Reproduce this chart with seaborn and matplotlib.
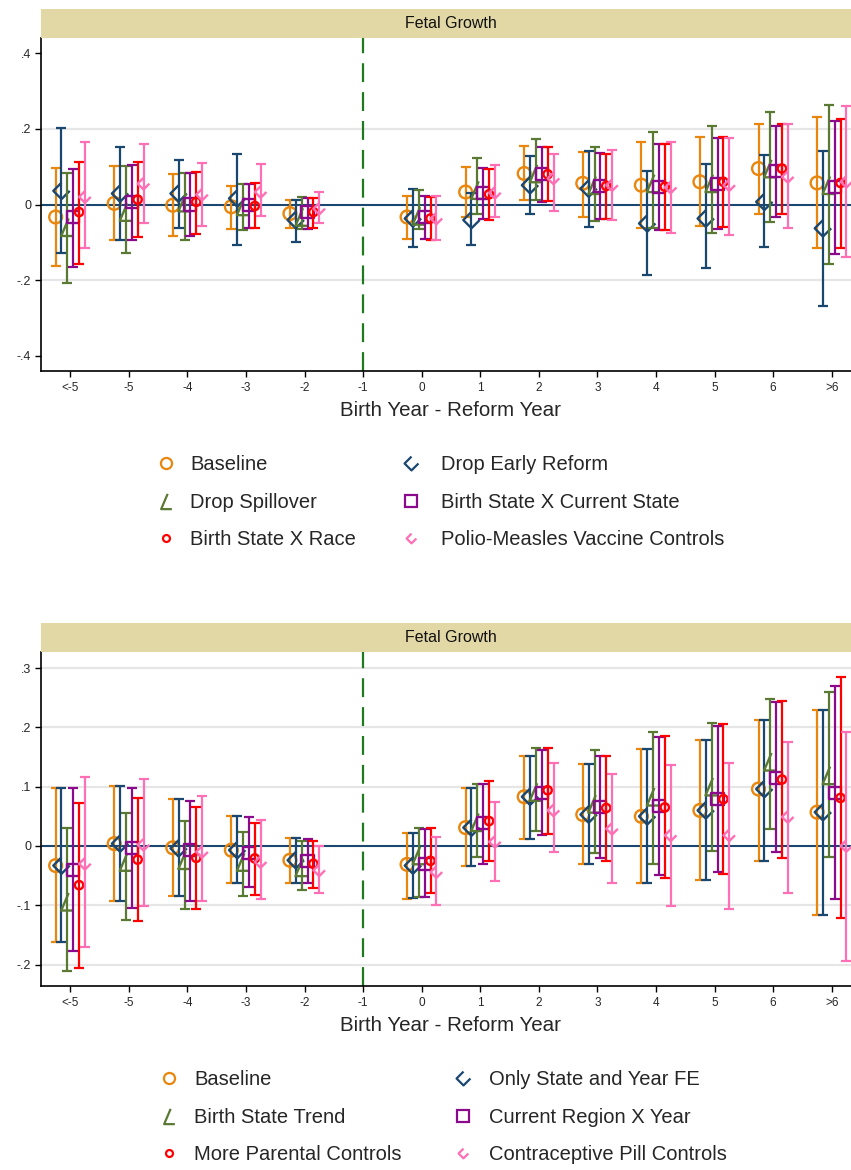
import numpy as np
import matplotlib
matplotlib.use("Agg")
import matplotlib.pyplot as plt
from matplotlib.path import Path
from matplotlib.lines import Line2D
from matplotlib.ticker import FuncFormatter
import seaborn as sns

# ---------------- data ----------------
categories = ["<-5", "-5", "-4", "-3", "-2", "-1", "0", "1", "2", "3", "4", "5", "6", ">6"]
# categories with estimates (index -1 is the omitted reference year)
est_cats = ["<-5", "-5", "-4", "-3", "-2", "0", "1", "2", "3", "4", "5", "6", ">6"]

# ---- top panel ----
top_labels = ["Baseline", "Drop Early Reform", "Drop Spillover",
              "Birth State X Current State", "Birth State X Race",
              "Polio-Measles Vaccine Controls"]
top_baseline_est = [-0.033, 0.003, -0.002, -0.006, -0.024, -0.033, 0.033, 0.082, 0.056, 0.051, 0.060, 0.095, 0.057]
top_baseline_lo = [-0.162, -0.094, -0.084, -0.066, -0.063, -0.090, -0.034, 0.011, -0.033, -0.063, -0.057, -0.026, -0.116]
top_baseline_hi = [0.097, 0.101, 0.080, 0.050, 0.013, 0.022, 0.098, 0.154, 0.139, 0.165, 0.179, 0.214, 0.230]

top_early_est = [0.036, 0.029, 0.029, 0.016, -0.041, -0.037, -0.041, 0.051, 0.042, -0.050, -0.037, 0.007, -0.063]
top_early_lo = [-0.127, -0.094, -0.062, -0.107, -0.100, -0.112, -0.107, -0.026, -0.059, -0.187, -0.169, -0.112, -0.269]
top_early_hi = [0.203, 0.152, 0.117, 0.133, 0.013, 0.042, 0.031, 0.128, 0.141, 0.089, 0.108, 0.130, 0.142]

top_spill_est = [-0.060, -0.020, 0.005, -0.005, -0.033, -0.030, 0.038, 0.082, 0.051, 0.056, 0.056, 0.095, 0.051]
top_spill_lo = [-0.207, -0.128, -0.094, -0.068, -0.066, -0.066, -0.024, 0.013, -0.043, -0.061, -0.074, -0.046, -0.156]
top_spill_hi = [0.084, 0.101, 0.084, 0.054, 0.019, 0.037, 0.124, 0.174, 0.151, 0.192, 0.207, 0.245, 0.262]

top_bscs_est = [-0.034, 0.007, 0.000, -0.002, -0.019, -0.033, 0.031, 0.080, 0.049, 0.047, 0.054, 0.088, 0.045]
top_bscs_lo = [-0.165, -0.094, -0.084, -0.063, -0.065, -0.091, -0.037, 0.007, -0.037, -0.068, -0.064, -0.034, -0.130]
top_bscs_hi = [0.095, 0.104, 0.082, 0.053, 0.018, 0.022, 0.097, 0.152, 0.137, 0.161, 0.176, 0.208, 0.220]

top_race_est = [-0.020, 0.013, 0.007, -0.004, -0.020, -0.037, 0.027, 0.080, 0.049, 0.047, 0.060, 0.095, 0.057]
top_race_lo = [-0.156, -0.087, -0.077, -0.062, -0.062, -0.093, -0.040, 0.008, -0.037, -0.068, -0.059, -0.026, -0.115]
top_race_hi = [0.112, 0.113, 0.086, 0.056, 0.017, 0.020, 0.095, 0.151, 0.133, 0.161, 0.179, 0.212, 0.225]

top_polio_est = [0.020, 0.055, 0.026, 0.033, -0.011, -0.037, 0.031, 0.069, 0.051, 0.045, 0.051, 0.073, 0.060]
top_polio_lo = [-0.116, -0.048, -0.056, -0.030, -0.050, -0.094, -0.034, -0.018, -0.041, -0.074, -0.081, -0.063, -0.140]
top_polio_hi = [0.166, 0.159, 0.110, 0.106, 0.032, 0.022, 0.105, 0.133, 0.145, 0.166, 0.177, 0.214, 0.260]

# ---- bottom panel ----
bot_labels = ["Baseline", "Only State and Year FE", "Birth State Trend",
              "Current Region X Year", "More Parental Controls",
              "Contraceptive Pill Controls"]
bot_baseline_est = [-0.033, 0.004, -0.003, -0.007, -0.024, -0.031, 0.031, 0.083, 0.053, 0.050, 0.060, 0.096, 0.057]
bot_baseline_lo = [-0.162, -0.093, -0.084, -0.063, -0.062, -0.089, -0.033, 0.011, -0.031, -0.063, -0.058, -0.026, -0.116]
bot_baseline_hi = [0.097, 0.101, 0.080, 0.051, 0.014, 0.022, 0.098, 0.152, 0.138, 0.164, 0.178, 0.213, 0.229]

bot_fe_est = [-0.033, 0.004, -0.004, -0.007, -0.024, -0.033, 0.031, 0.083, 0.053, 0.050, 0.060, 0.096, 0.057]
bot_fe_lo = [-0.162, -0.093, -0.084, -0.063, -0.062, -0.088, -0.034, 0.011, -0.031, -0.063, -0.058, -0.026, -0.116]
bot_fe_hi = [0.097, 0.101, 0.080, 0.051, 0.014, 0.022, 0.098, 0.152, 0.138, 0.164, 0.178, 0.213, 0.229]

bot_trend_est = [-0.094, -0.027, -0.024, -0.027, -0.036, -0.016, 0.040, 0.091, 0.071, 0.083, 0.100, 0.142, 0.119]
bot_trend_lo = [-0.211, -0.125, -0.107, -0.084, -0.074, -0.086, -0.019, 0.026, -0.012, -0.030, -0.008, 0.029, -0.019]
bot_trend_hi = [0.031, 0.056, 0.042, 0.024, 0.008, 0.031, 0.105, 0.165, 0.162, 0.192, 0.207, 0.248, 0.260]

bot_region_est = [-0.040, -0.003, -0.007, -0.011, -0.025, -0.030, 0.038, 0.089, 0.065, 0.067, 0.079, 0.115, 0.090]
bot_region_lo = [-0.177, -0.104, -0.092, -0.069, -0.063, -0.086, -0.030, 0.018, -0.021, -0.049, -0.044, -0.010, -0.090]
bot_region_hi = [0.098, 0.097, 0.076, 0.049, 0.011, 0.028, 0.105, 0.162, 0.151, 0.184, 0.203, 0.242, 0.270]

bot_parent_est = [-0.066, -0.023, -0.020, -0.021, -0.030, -0.025, 0.042, 0.094, 0.064, 0.065, 0.079, 0.112, 0.081]
bot_parent_lo = [-0.205, -0.126, -0.106, -0.083, -0.071, -0.079, -0.026, 0.021, -0.025, -0.054, -0.047, -0.021, -0.122]
bot_parent_hi = [0.072, 0.081, 0.066, 0.039, 0.008, 0.030, 0.110, 0.165, 0.152, 0.185, 0.205, 0.244, 0.285]

bot_pill_est = [-0.030, 0.002, -0.010, -0.027, -0.041, -0.044, 0.007, 0.060, 0.029, 0.018, 0.018, 0.049, 0.000]
bot_pill_lo = [-0.171, -0.101, -0.093, -0.090, -0.080, -0.099, -0.059, -0.010, -0.062, -0.101, -0.107, -0.080, -0.194]
bot_pill_hi = [0.116, 0.113, 0.084, 0.043, 0.000, 0.015, 0.074, 0.140, 0.122, 0.136, 0.140, 0.176, 0.192]

# ---------------- styling ----------------
colors = ["#e8860e", "#1a476f", "#5a7a34", "#8b0a8b", "#ff0000", "#ff6fb5"]
offsets = [-0.25, -0.15, -0.05, 0.05, 0.15, 0.25]

chevron = Path([(0, 1), (-1, 0), (0, -1), (1, 0)],
               [Path.MOVETO, Path.LINETO, Path.LINETO, Path.LINETO])
angle = Path([(0.15, 1), (-0.7, -1), (0.7, -1)],
             [Path.MOVETO, Path.LINETO, Path.LINETO])
markers = ["o", chevron, angle, "s", "o", chevron]
msizes = [85, 140, 160, 75, 36, 70]          # scatter sizes (pt^2)
leg_msizes = [8, 10, 11, 8, 5, 7]             # legend marker sizes (pt)

sns.set_theme(style="white")
plt.rcParams["font.family"] = ["Liberation Sans", "DejaVu Sans"]

fig = plt.figure(figsize=(8.51, 11.70), dpi=100)
W, H = 851.0, 1170.0


def fmt(v, pos):
    if abs(v) < 1e-9:
        return "0"
    s = f"{v:.1f}"
    return s.replace("0.", ".")


def make_panel(ax_top_px, ax_bot_px, strip_top_px, ylim, yticks, grid_vals, series, labels):
    left = 41 / W
    width = 820 / W
    ax = fig.add_axes([left, 1 - ax_bot_px / H, width, (ax_bot_px - ax_top_px) / H])
    sax = fig.add_axes([left, 1 - ax_top_px / H, width, (ax_top_px - strip_top_px) / H])
    sax.set_facecolor("#e2d8a6")
    for s in sax.spines.values():
        s.set_visible(False)
    sax.set_xticks([])
    sax.set_yticks([])
    sax.text(0.5, 0.5, "Fetal Growth", ha="center", va="center", fontsize=11.5,
             transform=sax.transAxes, color="#111111")

    for g in grid_vals:
        ax.axhline(g, color="#e6e6e6", lw=1.6, zorder=0)
    ax.axhline(0, color="#1a476f", lw=1.5, zorder=1)
    ax.axvline(categories.index("-1"), color="#1f7a1f", lw=1.6,
               dashes=(8.5, 4.5), zorder=1)

    pos = np.array([categories.index(c) for c in est_cats], dtype=float)
    for i, (est, lo, hi) in enumerate(series):
        est = np.asarray(est)
        lo = np.asarray(lo)
        hi = np.asarray(hi)
        x = pos + offsets[i]
        ax.errorbar(x, est, yerr=[est - lo, hi - est], fmt="none",
                    ecolor=colors[i], elinewidth=1.6, capsize=3.8,
                    capthick=1.6, zorder=2 + i)
        sns.scatterplot(x=x, y=est, ax=ax, marker=markers[i], s=msizes[i],
                        color=colors[i], facecolor="none", edgecolor=colors[i],
                        linewidth=1.7, zorder=2.5 + i, legend=False)

    ax.set_xlim(-0.5, 13.5)
    ax.set_ylim(*ylim)
    ax.set_xticks(range(len(categories)))
    ax.set_xticklabels(categories, fontsize=8.5)
    ax.set_yticks(yticks)
    ax.yaxis.set_major_formatter(FuncFormatter(fmt))
    ax.tick_params(axis="y", labelsize=9, length=4, width=1, color="black",
                   direction="out", left=True, pad=3)
    ax.tick_params(axis="x", length=4, width=1, color="black", direction="out",
                   bottom=True, pad=4)
    for s in ["top", "right"]:
        ax.spines[s].set_visible(False)
    for s in ["left", "bottom"]:
        ax.spines[s].set_color("black")
        ax.spines[s].set_linewidth(1.2)
    ax.set_xlabel("Birth Year - Reform Year", fontsize=14.8, labelpad=5)
    ax.set_ylabel("")
    ax.set_facecolor("white")
    return ax


top_series = [
    (top_baseline_est, top_baseline_lo, top_baseline_hi),
    (top_early_est, top_early_lo, top_early_hi),
    (top_spill_est, top_spill_lo, top_spill_hi),
    (top_bscs_est, top_bscs_lo, top_bscs_hi),
    (top_race_est, top_race_lo, top_race_hi),
    (top_polio_est, top_polio_lo, top_polio_hi),
]
bot_series = [
    (bot_baseline_est, bot_baseline_lo, bot_baseline_hi),
    (bot_fe_est, bot_fe_lo, bot_fe_hi),
    (bot_trend_est, bot_trend_lo, bot_trend_hi),
    (bot_region_est, bot_region_lo, bot_region_hi),
    (bot_parent_est, bot_parent_lo, bot_parent_hi),
    (bot_pill_est, bot_pill_lo, bot_pill_hi),
]

make_panel(38, 371, 9, (-0.44, 0.44), [-0.4, -0.2, 0, 0.2, 0.4], [-0.2, 0.2],
           top_series, top_labels)
make_panel(652, 986, 623, (-0.236, 0.327), [-0.2, -0.1, 0, 0.1, 0.2, 0.3],
           [-0.2, -0.1, 0.1, 0.2, 0.3], bot_series, bot_labels)


def handle(i):
    return Line2D([], [], marker=markers[i], linestyle="none",
                  markerfacecolor="none", markeredgecolor=colors[i],
                  markeredgewidth=1.6, markersize=leg_msizes[i])


def add_legend(idx, labels, marker_x_px, text_x_px, top_row_center_px):
    fs = 14.5
    em = fs * 100 / 72
    hl = 1.0
    anchor_x = marker_x_px - hl * em / 2
    pad = (text_x_px - anchor_x - hl * em) / em
    anchor_y = top_row_center_px - 0.4 * em
    leg = fig.legend([handle(i) for i in idx], [labels[i] for i in idx],
                     loc="upper left", bbox_to_anchor=(anchor_x / W, 1 - anchor_y / H),
                     frameon=False, fontsize=fs, handlelength=hl,
                     handletextpad=pad, labelspacing=0.93, borderpad=0,
                     borderaxespad=0)
    return leg


add_legend([0, 2, 4], top_labels, 166, 190, 463)
add_legend([1, 3, 5], top_labels, 411, 441, 463)
add_legend([0, 2, 4], bot_labels, 169, 194, 1078)
add_legend([1, 3, 5], bot_labels, 463, 489, 1078)

fig.savefig("out.png", dpi=100)
